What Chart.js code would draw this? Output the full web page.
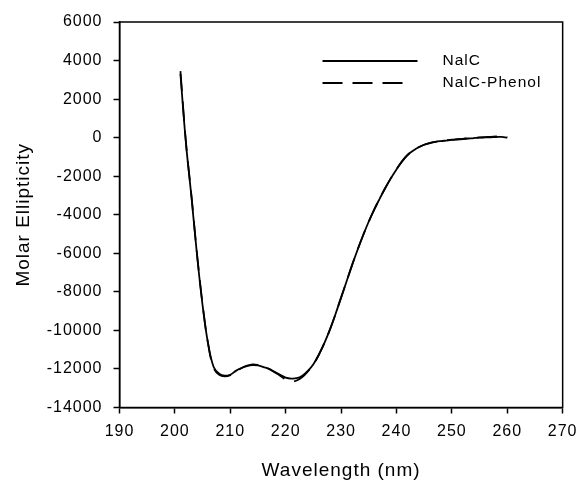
<!DOCTYPE html>
<html>
<head>
<meta charset="utf-8">
<script src="https://cdn.jsdelivr.net/npm/chart.js@4/dist/chart.umd.min.js"></script>
<style>
html,body{margin:0;padding:0;background:#fff;}
#wrap{width:584px;height:484px;position:relative;}
</style>
</head>
<body>
<div id="wrap"><canvas id="c" width="584" height="484"></canvas></div>
<script>
const wavelengths = [201,202,203,204,205,206,207,208,209,210,211,212,213,214,215,216,217,218,219,220,221,222,223,224,225,226,227,228,229,230,231,232,233,234,235,236,237,238,239,240,241,242,243,244,245,246,247,248,249,250,251,252,253,254,255,256,257,258,259,260];
const nalc = [3300,-300,-3100,-6100,-8700,-10700,-11900,-12250,-12350,-12300,-12100,-11950,-11850,-11800,-11820,-11900,-12000,-12150,-12300,-12450,-12500,-12480,-12350,-12100,-11750,-11250,-10650,-9950,-9150,-8300,-7450,-6600,-5800,-5050,-4350,-3720,-3150,-2600,-2100,-1650,-1230,-900,-680,-500,-370,-280,-220,-180,-150,-120,-95,-70,-45,-20,0,10,20,30,40,0];
const nalcPhenol = [3450,-250,-3050,-6050,-8650,-10700,-11950,-12300,-12380,-12320,-12120,-11960,-11830,-11760,-11790,-11880,-12000,-12170,-12350,-12550,-12650,-12600,-12420,-12130,-11770,-11260,-10650,-9950,-9150,-8300,-7450,-6600,-5800,-5050,-4350,-3720,-3150,-2600,-2100,-1650,-1230,-900,-680,-500,-370,-280,-220,-170,-130,-100,-80,-60,-30,-10,10,30,40,60,70,20];
const seriesLabels = ['NalC','NalC-Phenol'];
const xTicks = [190,200,210,220,230,240,250,260,270];
const yTicks = [-14000,-12000,-10000,-8000,-6000,-4000,-2000,0,2000,4000,6000];
const xTitle = 'Wavelength (nm)';
const yTitle = 'Molar Ellipticity';

const toPts = (ys) => wavelengths.map((w,i)=>({x:w,y:ys[i]}));

const spacing = {
  id:'spacing',
  beforeDraw(chart){ try{ chart.ctx.letterSpacing = '1px'; }catch(e){} }
};

const frameAndLegend = {
  id:'frameAndLegend',
  afterDraw(chart){
    const {ctx, chartArea:a} = chart;
    ctx.save();
    ctx.strokeStyle = '#000';
    ctx.lineWidth = 1.5;
    ctx.setLineDash([]);
    ctx.strokeRect(a.left, a.top, a.right-a.left, a.bottom-a.top);
    const items = chart.data.datasets;
    const lx0 = a.left + 203, lx1 = a.left + 298, ty = a.top + 39, dy = 22;
    ctx.font = '15.5px "Liberation Sans", Arial, sans-serif';
    ctx.textBaseline = 'middle';
    ctx.fillStyle = '#000';
    items.forEach((ds,i)=>{
      const y = ty + i*dy;
      ctx.beginPath();
      ctx.lineWidth = ds.borderWidth;
      ctx.setLineDash(ds.borderDash || []);
      ctx.strokeStyle = ds.borderColor;
      ctx.moveTo(lx0, y);
      ctx.lineTo(i===0 ? lx1 : lx1-8, y);
      ctx.stroke();
      ctx.setLineDash([]);
      ctx.fillText(ds.label, a.left + 323, y);
    });
    ctx.restore();
  }
};

const tickFont = {family:'"Liberation Sans", Arial, sans-serif', size:16};
const titleFont = {family:'"Liberation Sans", Arial, sans-serif', size:19};

new Chart(document.getElementById('c'), {
  type:'line',
  data:{
    datasets:[
      {label:seriesLabels[0], data:toPts(nalc), borderColor:'#000', borderWidth:1.8, pointRadius:0, tension:0.4, fill:false},
      {label:seriesLabels[1], data:toPts(nalcPhenol), borderColor:'#000', borderWidth:1.8, borderDash:[20,10], pointRadius:0, tension:0.4, fill:false}
    ]
  },
  options:{
    responsive:false,
    animation:false,
    layout:{padding:{left:0,top:22,right:19,bottom:0}},
    plugins:{legend:{display:false}, tooltip:{enabled:false}},
    scales:{
      x:{
        type:'linear', min:190, max:270,
        afterBuildTicks:(s)=>{ s.ticks = xTicks.map(v=>({value:v})); },
        afterFit:(s)=>{ s.height = 76.5; },
        ticks:{color:'#000', font:tickFont, padding:8, maxRotation:0, autoSkip:false, callback:(v)=>String(v)},
        grid:{display:true, drawOnChartArea:false, drawTicks:true, tickLength:6, tickColor:'#000', tickWidth:1.5},
        border:{display:true, color:'#000', width:1.5},
        title:{display:true, text:xTitle, color:'#000', font:titleFont, padding:{top:0,bottom:2}}
      },
      y:{
        type:'linear', min:-14000, max:6000,
        afterBuildTicks:(s)=>{ s.ticks = yTicks.map(v=>({value:v})); },
        afterFit:(s)=>{ s.width = 119.5; },
        ticks:{color:'#000', font:tickFont, padding:11, autoSkip:false, callback:(v)=>String(v)},
        grid:{display:true, drawOnChartArea:false, drawTicks:true, tickLength:6, tickColor:'#000', tickWidth:1.5},
        border:{display:true, color:'#000', width:1.5},
        title:{display:true, text:yTitle, color:'#000', font:titleFont, padding:{top:12,bottom:0}}
      }
    }
  },
  plugins:[spacing, frameAndLegend]
});
</script>
</body>
</html>
